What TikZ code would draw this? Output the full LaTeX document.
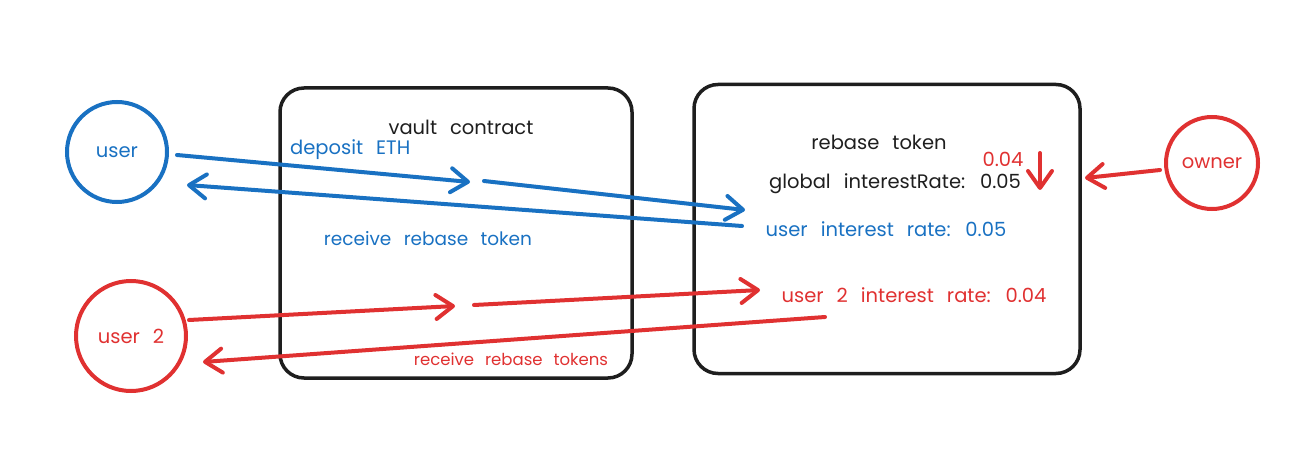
\documentclass[tikz,border=0pt]{standalone}
\usepackage{fontspec}
\setmainfont{Poppins}
\newfontfamily\sketchfont[WordSpace=2.5]{Poppins}
\usetikzlibrary{arrows.meta}

\definecolor{exblue}{HTML}{1971C2}
\definecolor{exred}{HTML}{E03131}
\definecolor{exblack}{HTML}{1E1E1E}

\tikzset{
  txt/.style={font=\sketchfont\fontsize{19.5}{22}\selectfont, inner sep=0pt},
  box/.style={draw=exblack, line width=3.5pt, rounded corners=24pt},
  actor/.style={circle, draw, line width=4pt, inner sep=0pt},
  arr/.style={line width=4pt, line cap=round,
    -{Straight Barb[length=17pt, width=24pt, line width=4pt, round]}},
}

\begin{document}
\begin{tikzpicture}[x=1pt, y=-1pt]
  \useasboundingbox (0,0) rectangle (1305,462);

  % contratos
  \node[box, minimum width=352pt, minimum height=290pt] (vault) at (456,233) {};
  \node[box, minimum width=386pt, minimum height=289pt] (token) at (887,229) {};
  \node[txt, exblack] (vaultlbl) at (461,127) {vault contract};
  \node[txt, exblack] (tokenlbl) at (879,142) {rebase token};

  % atores
  \node[actor, exblue, minimum size=100pt] (user) at (117,152) {};
  \node[txt, exblue] at (user) {user};
  \node[actor, exred, minimum size=110pt] (user2) at (131,336) {};
  \node[txt, exred] at (user2) {user 2};
  \node[actor, exred, minimum size=92pt] (owner) at (1212,163) {};
  \node[txt, exred] at (owner) {owner};

  % taxas
  \node[txt, exblack] (global) at (895,184) {global interestRate: 0.05};
  \node[txt, exred] (newrate) at (1003,159) {0.04};
  \node[txt, exblue] (rate1) at (886,229) {user interest rate: 0.05};
  \node[txt, exred] (rate2) at (914,295) {user 2 interest rate: 0.04};

  % rótulos das setas
  \node[txt, exblue, anchor=west] (dep) at (290,150) {deposit ETH};
  \node[txt, exblue, font=\sketchfont\fontsize{18.5}{22}\selectfont] (recv1) at (428,239) {receive rebase token};
  \node[txt, exred, font=\sketchfont\fontsize{16.5}{22}\selectfont] (recv2) at (511,359) {receive rebase tokens};

  % pontas livres das setas
  \coordinate (a1) at (177,155);
  \coordinate (a2) at (470,182);
  \coordinate (a3) at (484,181);
  \coordinate (a4) at (745,210);
  \coordinate (b1) at (742,226);
  \coordinate (b2) at (187,185);
  \coordinate (c1) at (189,320);
  \coordinate (c2) at (455,306);
  \coordinate (c3) at (474,305);
  \coordinate (c4) at (760,290);
  \coordinate (d1) at (825,317);
  \coordinate (d2) at (203,362);
  \coordinate (e1) at (1160,170);
  \coordinate (e2) at (1085,178);
  \coordinate (f1) at (1040,153);
  \coordinate (f2) at (1040,190);

  % setas do user
  \draw[arr, exblue] (a1) -- (a2);
  \draw[arr, exblue] (a3) -- (a4);
  \draw[arr, exblue] (b1) -- (b2);

  % setas do user 2
  \draw[arr, exred] (c1) -- (c2);
  \draw[arr, exred] (c3) -- (c4);
  \draw[arr, exred] (d1) -- (d2);

  % owner muda a taxa global
  \draw[arr, exred] (e1) -- (e2);
  \draw[arr, exred] (f1) -- (f2);
\end{tikzpicture}
\end{document}
